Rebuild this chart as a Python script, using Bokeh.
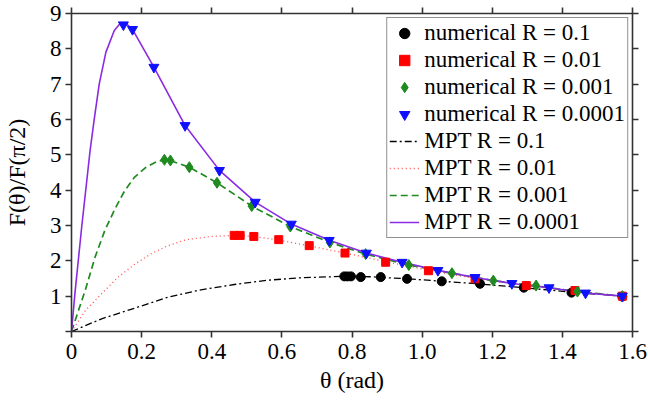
from bokeh.plotting import figure
from bokeh.models import (Range1d, LinearAxis, FixedTicker, CustomJSTickFormatter,
                          Legend, LegendItem)
from bokeh.embed import file_html
from bokeh.resources import INLINE

# ---------------- data ----------------
XTICKS = [0, 0.2, 0.4, 0.6, 0.8, 1.0, 1.2, 1.4, 1.6]
YTICKS = [0, 1, 2, 3, 4, 5, 6, 7, 8, 9]

# numerical results
num_r01_th = [0.778, 0.787, 0.797, 0.825, 0.882, 0.957, 1.056, 1.165, 1.29, 1.426, 1.571]
num_r01_F = [1.56, 1.56, 1.56, 1.54, 1.54, 1.49, 1.42, 1.35, 1.24, 1.10, 0.99]

num_r001_th = [0.464, 0.481, 0.52, 0.591, 0.678, 0.78, 0.896, 1.018, 1.151, 1.297, 1.436, 1.571]
num_r001_F = [2.72, 2.72, 2.69, 2.60, 2.43, 2.22, 1.96, 1.72, 1.49, 1.30, 1.16, 1.0]

num_r0001_th = [0.265, 0.282, 0.336, 0.415, 0.514, 0.624, 0.737, 0.839, 0.962, 1.085, 1.203, 1.325, 1.443, 1.571]
num_r0001_F = [4.86, 4.84, 4.65, 4.21, 3.55, 2.97, 2.52, 2.19, 1.88, 1.65, 1.44, 1.30, 1.13, 1.0]

num_r00001_th = [0.148, 0.174, 0.235, 0.324, 0.422, 0.524, 0.627, 0.735, 0.841, 0.943, 1.045,
                 1.151, 1.256, 1.362, 1.466, 1.571]
num_r00001_F = [8.68, 8.55, 7.48, 5.83, 4.56, 3.66, 3.04, 2.58, 2.22, 1.96, 1.73,
                1.53, 1.36, 1.24, 1.09, 1.0]

# MPT curves
mpt_r01_th = [0, 0.086, 0.18, 0.275, 0.369, 0.464, 0.558, 0.652, 0.775, 0.85, 0.96, 1.06,
              1.17, 1.29, 1.43, 1.571]
mpt_r01_F = [0, 0.36, 0.66, 0.97, 1.18, 1.33, 1.45, 1.52, 1.56, 1.55, 1.49, 1.42,
             1.34, 1.24, 1.11, 1.0]

mpt_r001_th = [0, 0.02, 0.04, 0.086, 0.133, 0.18, 0.227, 0.275, 0.327, 0.4, 0.47, 0.52,
               0.59, 0.68, 0.78, 0.9, 1.02, 1.15, 1.3, 1.44, 1.571]
mpt_r001_F = [0, 0.3, 0.6, 1.07, 1.54, 1.9, 2.2, 2.43, 2.6, 2.69, 2.72, 2.69,
              2.59, 2.42, 2.22, 1.97, 1.73, 1.5, 1.3, 1.15, 1.0]

mpt_r0001_th = [0, 0.02, 0.039, 0.067, 0.095, 0.124, 0.152, 0.18, 0.213, 0.246, 0.275, 0.336,
                0.415, 0.514, 0.624, 0.737, 0.839, 0.962, 1.085, 1.203, 1.325, 1.443, 1.571]
mpt_r0001_F = [0, 0.6, 1.16, 2.1, 2.86, 3.47, 3.99, 4.37, 4.65, 4.82, 4.86, 4.65,
               4.21, 3.55, 2.97, 2.52, 2.19, 1.88, 1.65, 1.44, 1.29, 1.13, 1.0]

mpt_r00001_th = [0, 0.01, 0.029, 0.053, 0.065, 0.079, 0.098, 0.122, 0.14, 0.155, 0.174, 0.235,
                 0.324, 0.422, 0.524, 0.627, 0.735, 0.841, 0.943, 1.045, 1.151, 1.256, 1.362,
                 1.466, 1.571]
mpt_r00001_F = [0, 1.1, 2.95, 5.12, 6.02, 7.0, 7.9, 8.52, 8.73, 8.72, 8.55, 7.48,
                5.83, 4.56, 3.66, 3.04, 2.58, 2.22, 1.96, 1.73, 1.53, 1.36, 1.24,
                1.09, 1.0]

LEGEND_LABELS = ["numerical R = 0.1", "numerical R = 0.01", "numerical R = 0.001",
                 "numerical R = 0.0001", "MPT R = 0.1", "MPT R = 0.01", "MPT R = 0.001",
                 "MPT R = 0.0001"]
X_TITLE = "θ (rad)"
Y_TITLE = "F(θ)/F(π/2)"

FONT = "'Liberation Serif', 'Times New Roman', serif"
TICK_SIZE = "23px"
LAB_SIZE = "24px"

# ---------------- figure ----------------
p = figure(width=648, height=405, output_backend="svg", toolbar_location=None,
           x_range=Range1d(0, 1.6), y_range=Range1d(0, 9),
           x_axis_type=None, y_axis_type=None,
           min_border_left=67, min_border_right=16, min_border_top=13, min_border_bottom=74)
p.outline_line_color = None
p.background_fill_color = "white"
p.border_fill_color = "white"

def style_axis(ax, labels=True):
    ax.axis_line_color = "#333333"
    ax.axis_line_width = 1.6
    ax.major_tick_line_color = "#333333"
    ax.major_tick_line_width = 1.6
    ax.major_tick_in = 0
    ax.major_tick_out = 6
    ax.minor_tick_line_color = None
    ax.major_label_text_font = FONT
    ax.major_label_text_font_style = "normal"
    ax.major_label_text_color = "black"
    ax.axis_label_text_font = FONT
    ax.axis_label_text_font_size = LAB_SIZE
    ax.axis_label_text_font_style = "normal"
    ax.axis_label_text_color = "black"
    if labels:
        ax.major_label_text_font_size = TICK_SIZE
    else:
        ax.major_label_text_font_size = "0px"
        ax.major_label_standoff = 0

xb = LinearAxis(ticker=FixedTicker(ticks=XTICKS), axis_label=X_TITLE,
                formatter=CustomJSTickFormatter(code="return tick < 1e-9 ? '0' : tick.toFixed(1);"))
style_axis(xb)
xb.major_label_standoff = 6
xb.axis_label_standoff = 5
p.add_layout(xb, "below")

yl = LinearAxis(ticker=FixedTicker(ticks=YTICKS), axis_label=Y_TITLE,
                formatter=CustomJSTickFormatter(code="return tick < 1e-9 ? '' : tick.toFixed(0);"))
style_axis(yl)
yl.major_label_standoff = 4
yl.axis_label_standoff = 17
p.add_layout(yl, "left")

xt = LinearAxis(ticker=FixedTicker(ticks=XTICKS),
                formatter=CustomJSTickFormatter(code="return '';"))
style_axis(xt, labels=False)
p.add_layout(xt, "above")

yr = LinearAxis(ticker=FixedTicker(ticks=YTICKS),
                formatter=CustomJSTickFormatter(code="return '';"))
style_axis(yr, labels=False)
p.add_layout(yr, "right")

# ---------------- curves ----------------
l1 = p.line(mpt_r01_th, mpt_r01_F, line_color="black", line_width=1.3, line_dash="7 3 2 3")
l2 = p.line(mpt_r001_th, mpt_r001_F, line_color="#ff4a4a", line_width=1.3, line_dash="1 3")
l3 = p.line(mpt_r0001_th, mpt_r0001_F, line_color="#1f8a1f", line_width=1.7, line_dash="7 4")
l4 = p.line(mpt_r00001_th, mpt_r00001_F, line_color="#8a2be2", line_width=1.6)

m1 = p.scatter(num_r01_th, num_r01_F, marker="circle", size=9, color="black")
m2 = p.scatter(num_r001_th, num_r001_F, marker="square", size=8, color="#ff0000")
m3 = p.scatter(num_r0001_th, num_r0001_F, marker="diamond", size=11, color="#1f8a1f")
m4 = p.scatter(num_r00001_th, num_r00001_F, marker="inverted_triangle", size=10, color="#1010ff")

renderers = [m1, m2, m3, m4, l1, l2, l3, l4]
items = [LegendItem(label=lab, renderers=[r]) for lab, r in zip(LEGEND_LABELS, renderers)]
legend = Legend(items=items, location="top_right")
legend.label_text_font = FONT
legend.label_text_font_style = "normal"
legend.label_text_font_size = "23px"
legend.label_text_color = "black"
legend.label_height = 26
legend.glyph_height = 26
legend.glyph_width = 30
legend.label_standoff = 5
legend.spacing = 1
legend.padding = 2
legend.margin = 4
legend.border_line_color = "#222222"
legend.border_line_width = 1.2
legend.background_fill_color = "white"
legend.background_fill_alpha = 1.0
p.add_layout(legend)

open("out.html", "w").write(file_html(p, INLINE))
